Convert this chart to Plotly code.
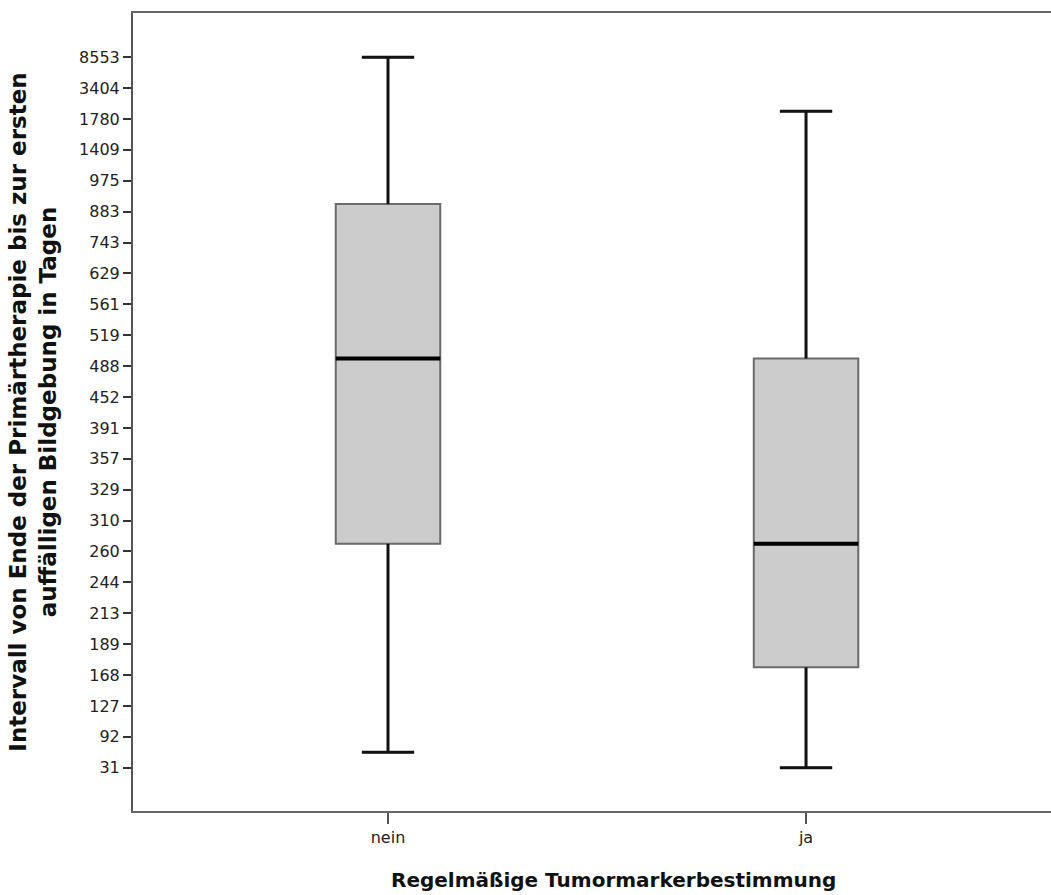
import plotly.graph_objects as go

# Ordinal y scale: tick labels (days) at evenly spaced rank positions 0..23
tick_labels = ["31", "92", "127", "168", "189", "213", "244", "260", "310", "329",
               "357", "391", "452", "488", "519", "561", "629", "743", "883", "975",
               "1409", "1780", "3404", "8553"]
tick_positions = list(range(len(tick_labels)))

# Groups and box statistics on the rank scale
groups = ["nein", "ja"]
group_pos = [0, 1]
lower_whisker = [0.5, 0.0]
q1 = [7.25, 3.25]
median = [13.25, 7.25]
q3 = [18.25, 13.25]
upper_whisker = [23.0, 21.25]

BOX_W = 0.25
CAP_W = 0.125
WHISKER_COLOR = "#111111"

fig = go.Figure()

for i, g in enumerate(groups):
    fig.add_trace(go.Box(
        x=[group_pos[i]], q1=[q1[i]], median=[median[i]], q3=[q3[i]],
        lowerfence=[lower_whisker[i]], upperfence=[upper_whisker[i]],
        width=BOX_W, whiskerwidth=0.5, fillcolor="#cccccc",
        line=dict(color="#6a6a6a", width=2), name=g, boxpoints=False,
        hoverinfo="skip",
    ))

# Black whiskers, caps and median lines drawn over each box
for i, g in enumerate(groups):
    p = group_pos[i]
    segs = [
        ([p, p], [q3[i], upper_whisker[i]]),
        ([p, p], [q1[i], lower_whisker[i]]),
        ([p - CAP_W / 2, p + CAP_W / 2], [upper_whisker[i]] * 2),
        ([p - CAP_W / 2, p + CAP_W / 2], [lower_whisker[i]] * 2),
    ]
    for xs, ys in segs:
        fig.add_trace(go.Scatter(x=xs, y=ys, mode="lines",
                                 line=dict(color=WHISKER_COLOR, width=3),
                                 hoverinfo="skip", showlegend=False))
    fig.add_trace(go.Scatter(x=[p - BOX_W / 2, p + BOX_W / 2], y=[median[i]] * 2,
                             mode="lines", line=dict(color="#000000", width=4),
                             hoverinfo="skip", showlegend=False))

FONT = "DejaVu Sans, Liberation Sans, Arial, sans-serif"

fig.update_layout(
    width=1051, height=895,
    margin=dict(l=133, r=0, t=13, b=84),
    paper_bgcolor="white", plot_bgcolor="white",
    showlegend=False,
    font=dict(family=FONT, color="#222222"),
    xaxis=dict(
        range=[-0.61, 1.586], tickvals=group_pos, ticktext=groups,
        showgrid=False, zeroline=False,
        showline=True, linecolor="#666666", linewidth=2, mirror=True,
        ticks="outside", ticklen=11, tickwidth=2, tickcolor="#555555",
        tickfont=dict(size=16, family=FONT, color="#222222"),
    ),
    yaxis=dict(
        range=[-1.4, 24.43], tickvals=tick_positions, ticktext=tick_labels,
        showgrid=False, zeroline=False,
        showline=True, linecolor="#555555", linewidth=2,
        ticks="outside", ticklen=8, tickwidth=2, tickcolor="#333333",
        tickfont=dict(size=16, family=FONT, color="#222222"),
        title=dict(
            text="<b>Intervall von Ende der Primärtherapie bis zur ersten<br>auffälligen Bildgebung in Tagen</b>",
            font=dict(size=23, family=FONT, color="#111111"), standoff=16,
        ),
    ),
    annotations=[dict(
        text="<b>Regelmäßige Tumormarkerbestimmung</b>",
        xref="paper", yref="paper", x=0.523, y=0, yshift=-69,
        xanchor="center", yanchor="middle", showarrow=False,
        font=dict(size=20, family=FONT, color="#111111"),
    )],
)

fig.write_html("out.html")
